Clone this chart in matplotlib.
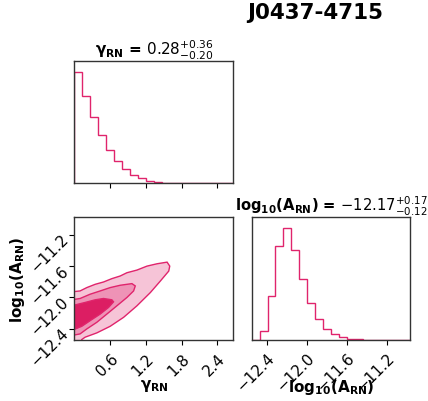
import numpy as np
import matplotlib
matplotlib.use('Agg')
import matplotlib.pyplot as plt

LINE_COLOR = "#E0246C"
FILL_COLORS = ["#F6C4D7", "#EE93B6", "#DC1E63"]

pulsar = "J0437-4715"

# parameter ranges (histogram extents)
gamma_range = (0.0, 2.67)
log_a_range = (-12.55, -10.97)

# 1D marginal histograms, 20 bins each (relative heights)
gamma_counts = [338, 265, 201, 145, 101, 68, 43, 26, 15, 8,
                4, 2, 1.5, 1, 0.6, 0.4, 0.3, 0.2, 0.1, 0.1]
log_a_counts = [1, 27, 133, 285, 337, 272, 185, 112, 63, 35,
                18, 10, 5, 3, 2, 1, 1, 0.5, 0.5, 0.5]

gamma_title = r"$\mathbf{\gamma_{RN}}$ = $0.28_{-0.20}^{+0.36}$"
log_a_title = r"$\mathbf{log_{10}(A_{RN})}$ = $-12.17_{-0.12}^{+0.17}$"
gamma_label = r"$\mathbf{\gamma_{RN}}$"
log_a_label = r"$\mathbf{log_{10}(A_{RN})}$"

gamma_ticks = [0.6, 1.2, 1.8, 2.4]
log_a_ticks = [-12.4, -12.0, -11.6, -11.2]

# 2D credible contours (gamma, log10 A), outer -> inner
outer_gamma = [-0.05, 0.094, 0.207, 0.347, 0.488, 0.628, 0.768, 0.881, 1.049, 1.218,
               1.387, 1.555, 1.600, 1.583, 1.443, 1.274, 1.049, 0.825, 0.600, 0.375,
               0.179, 0.123, 0.10, -0.05]
outer_log = [-11.928, -11.916, -11.873, -11.831, -11.801, -11.758, -11.724, -11.682,
             -11.648, -11.597, -11.567, -11.546, -11.597, -11.661, -11.788, -11.937,
             -12.107, -12.255, -12.370, -12.455, -12.510, -12.540, -12.6, -12.6]
mid_gamma = [-0.05, 0.094, 0.263, 0.432, 0.600, 0.768, 0.965, 1.021, 0.993, 0.881,
             0.712, 0.544, 0.375, 0.207, 0.094, -0.05]
mid_log = [-12.030, -12.013, -11.958, -11.916, -11.873, -11.843, -11.822, -11.852,
           -11.916, -12.000, -12.107, -12.213, -12.319, -12.404, -12.468, -12.489]
inner_gamma = [-0.05, 0.179, 0.347, 0.488, 0.628, 0.656, 0.572, 0.432, 0.263, 0.123, -0.05]
inner_log = [-12.107, -12.064, -12.030, -12.013, -12.030, -12.056, -12.128, -12.213,
             -12.298, -12.370, -12.425]

contours = [(outer_gamma, outer_log), (mid_gamma, mid_log), (inner_gamma, inner_log)]

plt.rcParams.update({
    'font.family': 'DejaVu Sans',
    'mathtext.fontset': 'dejavusans',
    'axes.linewidth': 1.0,
    'axes.edgecolor': '#333333',
    'xtick.labelsize': 11,
    'ytick.labelsize': 11,
})

fig = plt.figure(figsize=(4.28, 4.02), dpi=100)
ax_g = fig.add_axes([0.174, 0.5415, 0.3715, 0.3055])
ax_2d = fig.add_axes([0.174, 0.151, 0.3715, 0.306])
ax_a = fig.add_axes([0.588, 0.151, 0.3706, 0.306])


def step_hist(ax, counts, rng):
    edges = np.linspace(rng[0], rng[1], len(counts) + 1)
    centers = 0.5 * (edges[:-1] + edges[1:])
    ax.hist(centers, bins=edges, weights=counts, histtype='step',
            color=LINE_COLOR, linewidth=1.0)
    ax.set_xlim(rng)
    ax.set_ylim(0, 1.1 * max(counts))
    ax.set_yticks([])


step_hist(ax_g, gamma_counts, gamma_range)
ax_g.set_xticks(gamma_ticks)
ax_g.set_xticklabels([])
ax_g.set_title(gamma_title, fontsize=11, fontweight='bold', pad=4)

step_hist(ax_a, log_a_counts, log_a_range)
ax_a.set_xticks(log_a_ticks)
ax_a.set_xticklabels([f"{t:.1f}".replace('-', '\u2212') for t in log_a_ticks],
                     rotation=45, ha='right', rotation_mode='anchor')
ax_a.set_title(log_a_title, fontsize=10.6, fontweight='bold', pad=4)
ax_a.set_xlabel(log_a_label, fontsize=11)
ax_a.xaxis.set_label_coords(0.5, -0.3)

for (gx, ly), fc in zip(contours, FILL_COLORS):
    ax_2d.fill(gx, ly, facecolor=fc, edgecolor=LINE_COLOR, linewidth=1.0)
ax_2d.set_xlim(gamma_range)
ax_2d.set_ylim(log_a_range)
ax_2d.set_xticks(gamma_ticks)
ax_2d.set_xticklabels([f"{t:.1f}" for t in gamma_ticks],
                      rotation=45, ha='right', rotation_mode='anchor')
ax_2d.set_yticks(log_a_ticks)
ax_2d.set_yticklabels([f"{t:.1f}".replace('-', '\u2212') for t in log_a_ticks],
                      rotation=45, ha='right', rotation_mode='anchor')
ax_2d.set_xlabel(gamma_label, fontsize=11)
ax_2d.set_ylabel(log_a_label, fontsize=11)
ax_2d.xaxis.set_label_coords(0.5, -0.3)
ax_2d.yaxis.set_label_coords(-0.3, 0.5)

fig.text(0.736, 0.968, pulsar, ha='center', va='center', fontsize=15.5, fontweight='bold')

fig.savefig('out.png', dpi=100)
